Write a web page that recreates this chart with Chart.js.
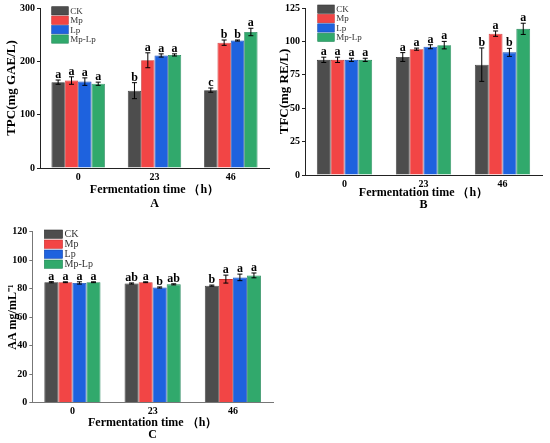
<!DOCTYPE html>
<html>
<head>
<meta charset="utf-8">
<script src="https://cdn.jsdelivr.net/npm/chart.js@4.4.1/dist/chart.umd.min.js"></script>
<style>
  html, body { margin: 0; padding: 0; background: #fff; }
  #wrap { position: relative; width: 550px; height: 443px; overflow: hidden; }
  .panel { position: absolute; }
</style>
</head>
<body>
<div id="wrap">
  <div class="panel" style="left:0;top:0;width:275px;height:215px"><canvas id="chartA"></canvas></div>
  <div class="panel" style="left:275px;top:0;width:275px;height:215px"><canvas id="chartB"></canvas></div>
  <div class="panel" style="left:0;top:215px;width:290px;height:228px"><canvas id="chartC"></canvas></div>
</div>
<script>
// Shared categories / groups
const times = ['0', '23', '46'];
const groups = ['CK', 'Mp', 'Lp', 'Mp-Lp'];
const fills = ['#4d4d4d', '#f24545', '#1e62de', '#31a96c'];
const edges = ['#333333', '#c83030', '#1449b0', '#23875a'];

// Panel A - TPC (one row per group, one value per time)
const tpcMeans = [[161, 145, 146], [164, 202, 235], [162, 211, 239], [158, 212, 255]];
const tpcErr = [[4, 15, 4], [7, 14, 5], [7, 3, 1], [3, 2, 7]];
const tpcLetters = [['a', 'b', 'c'], ['a', 'a', 'b'], ['a', 'a', 'b'], ['a', 'a', 'a']];
const tpcTicks = [0, 100, 200, 300];

// Panel B - TFC
const tfcMeans = [[86.2, 88.3, 82.6], [86.2, 94.2, 105.8], [86.2, 96.0, 91.8], [86.2, 97.2, 109.4]];
const tfcErr = [[2, 3.3, 12.5], [2, 0.8, 2], [1.2, 1.5, 3], [1.2, 2.8, 4.2]];
const tfcLetters = [['a', 'a', 'b'], ['a', 'a', 'a'], ['a', 'a', 'b'], ['a', 'a', 'a']];
const tfcTicks = [0, 25, 50, 75, 100, 125];

// Panel C - AA
const aaMeans = [[84.5, 83.6, 82.1], [84.5, 84.5, 86.7], [84.0, 80.8, 87.9], [84.5, 83.0, 89.3]];
const aaErr = [[0.4, 0.4, 0.4], [0.3, 0.3, 2.8], [0.8, 0.4, 2.3], [0.3, 0.4, 1.7]];
const aaLetters = [['a', 'ab', 'b'], ['a', 'a', 'a'], ['a', 'b', 'a'], ['a', 'ab', 'a']];
const aaTicks = [0, 20, 40, 60, 80, 100, 120];

const serif = "'Liberation Serif', 'Times New Roman', serif";

// error bars + significance letters, read from the dataset
const errorBarPlugin = {
    id: 'errorBars',
    afterDatasetsDraw(chart) {
        const ctx = chart.ctx;
        const y = chart.scales.y;
        ctx.save();
        ctx.strokeStyle = '#000';
        ctx.fillStyle = '#000';
        ctx.lineWidth = 1;
        ctx.font = "bold 12px " + serif;
        ctx.textAlign = 'center';
        ctx.textBaseline = 'alphabetic';
        chart.data.datasets.forEach((ds, i) => {
            chart.getDatasetMeta(i).data.forEach((bar, j) => {
                const v = ds.data[j], e = ds.errors[j];
                const top = y.getPixelForValue(v + e);
                const bot = y.getPixelForValue(v - e);
                ctx.beginPath();
                ctx.moveTo(bar.x, top); ctx.lineTo(bar.x, bot);
                ctx.moveTo(bar.x - 2.5, top); ctx.lineTo(bar.x + 2.5, top);
                ctx.moveTo(bar.x - 2.5, bot); ctx.lineTo(bar.x + 2.5, bot);
                ctx.stroke();
                ctx.fillText(ds.letters[j], bar.x, top - 2);
            });
        });
        ctx.restore();
    }
};

// small stacked box legend like the original (Origin style)
const boxLegendPlugin = {
    id: 'boxLegend',
    afterDraw(chart, args, o) {
        const ctx = chart.ctx;
        ctx.save();
        ctx.font = o.size + "px " + serif;
        ctx.textAlign = 'left';
        ctx.textBaseline = 'middle';
        chart.data.datasets.forEach((ds, i) => {
            const y = o.y + i * o.pitch;
            ctx.fillStyle = ds.backgroundColor;
            ctx.fillRect(o.x, y, o.w, o.h);
            ctx.strokeStyle = ds.borderColor;
            ctx.lineWidth = 0.6;
            ctx.strokeRect(o.x, y, o.w, o.h);
            ctx.fillStyle = '#333';
            ctx.fillText(ds.label, o.x + o.w + 2, y + o.h / 2 + 0.5);
        });
        ctx.restore();
    }
};

function makePanel(id, p) {
    const datasets = groups.map((g, i) => ({
        label: g,
        data: p.means[i],
        errors: p.err[i],
        letters: p.letters[i],
        backgroundColor: fills[i],
        borderColor: edges[i],
        borderWidth: 0.8,
        barPercentage: 1,
        categoryPercentage: 0.7
    }));

    return new Chart(document.getElementById(id), {
        type: 'bar',
        data: { labels: times, datasets },
        options: {
            responsive: true,
            maintainAspectRatio: false,
            animation: false,
            layout: { padding: p.padding },
            scales: {
                x: {
                    offset: true,
                    grid: { display: false, drawTicks: false },
                    border: { display: true, color: p.axisColor, width: 1 },
                    ticks: { color: '#000', padding: 3, font: { family: serif, size: 10, weight: 'bold' } },
                    title: {
                        display: true,
                        text: ['Fermentation time （h）', p.tag],
                        color: '#000',
                        font: { family: serif, size: 12, weight: 'bold', lineHeight: p.titleLine },
                        padding: { top: 0, bottom: p.titleBottom }
                    },
                    afterFit: s => { s.height = p.xHeight; }
                },
                y: {
                    min: p.ticks[0],
                    max: p.ticks[p.ticks.length - 1],
                    afterBuildTicks: s => { s.ticks = p.ticks.map(v => ({ value: v })); },
                    grid: { display: true, drawOnChartArea: false, drawTicks: true, tickLength: 3, color: p.axisColor },
                    border: { display: true, color: p.axisColor, width: 1 },
                    ticks: { color: '#000', padding: 2, font: { family: serif, size: 10, weight: 'bold' } },
                    title: {
                        display: true,
                        text: p.yTitle,
                        color: '#000',
                        font: { family: serif, size: p.yTitleSize, weight: 'bold', lineHeight: 1.2 },
                        padding: 0
                    },
                    afterFit: s => { s.width = p.yWidth; }
                }
            },
            plugins: {
                legend: { display: false },
                tooltip: { enabled: false },
                boxLegend: p.legend
            }
        },
        plugins: [errorBarPlugin, boxLegendPlugin]
    });
}

makePanel('chartA', {
    means: tpcMeans, err: tpcErr, letters: tpcLetters, ticks: tpcTicks,
    yTitle: 'TPC(mg GAE/L)', yTitleSize: 13, tag: 'A', axisColor: '#222',
    padding: { left: 4, top: 7, right: 6, bottom: 0 },
    yWidth: 36, xHeight: 47, titleLine: 1.22, titleBottom: 3.6,
    legend: { x: 51.7, y: 6.7, w: 16.6, h: 8.3, pitch: 9.4, size: 9 }
});

makePanel('chartB', {
    means: tfcMeans, err: tfcErr, letters: tfcLetters, ticks: tfcTicks,
    yTitle: 'TFC(mg RE/L)', yTitleSize: 13, tag: 'B', axisColor: '#222',
    padding: { left: 2, top: 7, right: 8, bottom: 0 },
    yWidth: 28, xHeight: 40, titleLine: 0.98, titleBottom: 4.2,
    legend: { x: 42.7, y: 5, w: 16.6, h: 8.3, pitch: 9.4, size: 9 }
});

makePanel('chartC', {
    means: aaMeans, err: aaErr, letters: aaLetters, ticks: aaTicks,
    yTitle: 'AA mg/mL⁻¹', yTitleSize: 12, tag: 'C', axisColor: '#777',
    padding: { left: 6, top: 16.7, right: 17, bottom: 0 },
    yWidth: 26.3, xHeight: 40.5, titleLine: 1.03, titleBottom: 1.8,
    legend: { x: 44.3, y: 15, w: 18.3, h: 8.3, pitch: 10, size: 10 }
});
</script>
</body>
</html>
